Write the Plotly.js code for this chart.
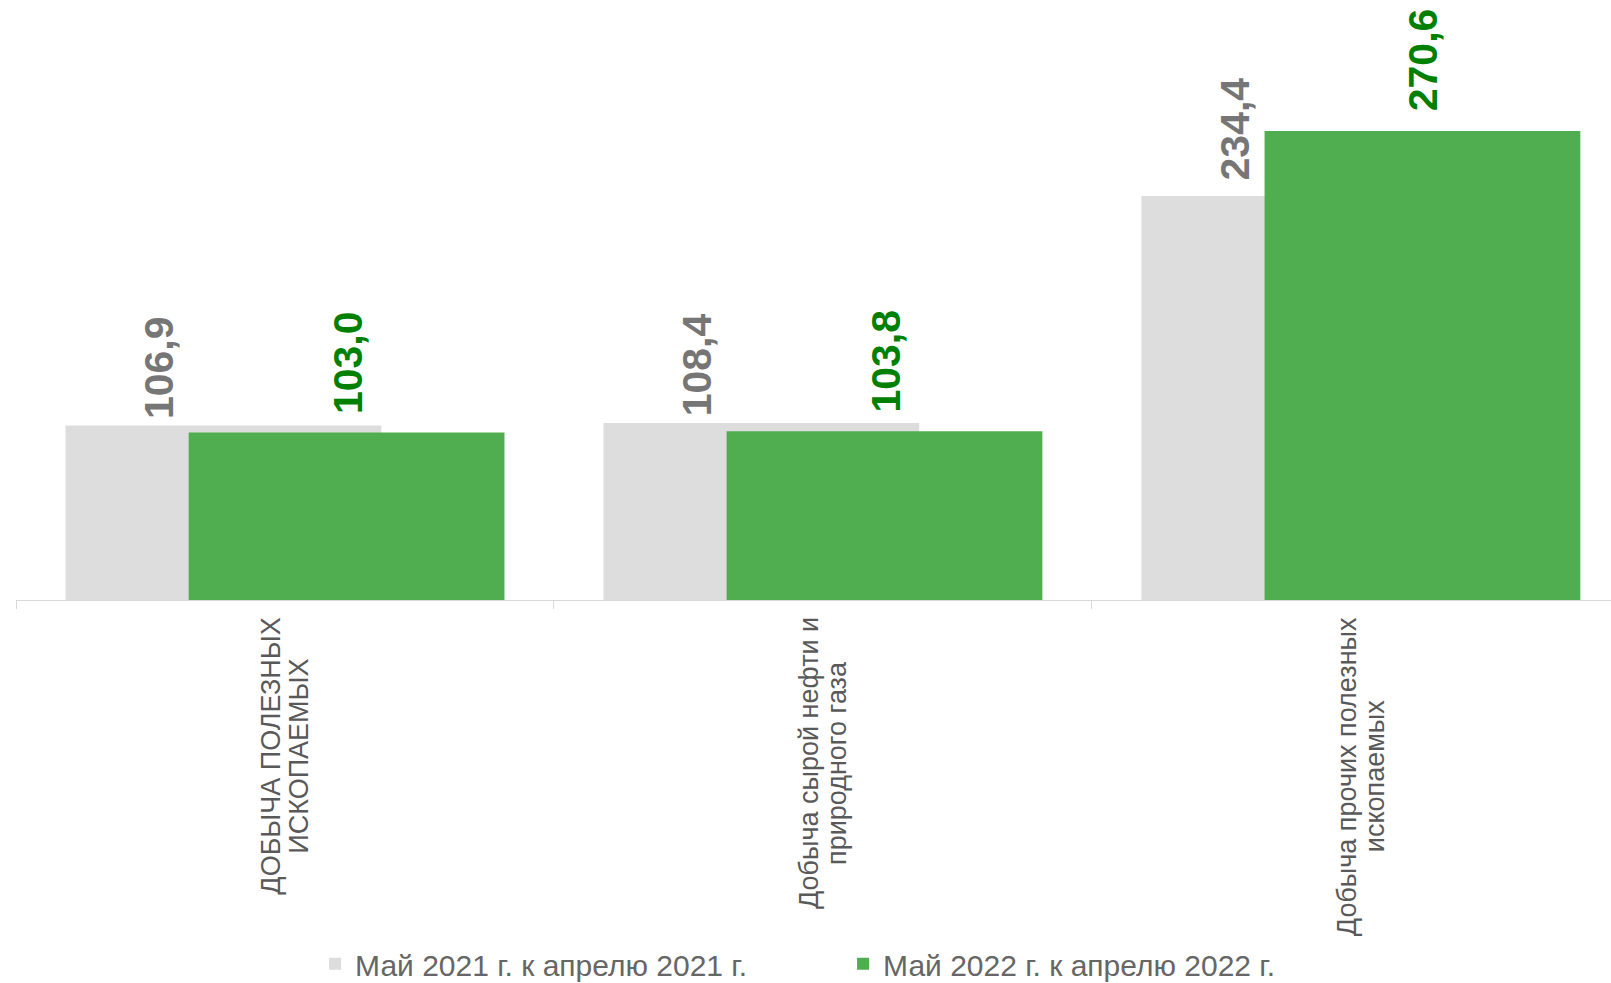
<!DOCTYPE html>
<html>
<head>
<meta charset="utf-8">
<script src="https://cdn.plot.ly/plotly-3.0.1.min.js"></script>
<style>
  html, body { margin: 0; padding: 0; background: #ffffff; overflow: hidden; }
  #chart { width: 1611px; height: 983px; }
</style>
</head>
<body>
<div id="chart"></div>
<script>
// ---- data ----
const categoryLabels = [
  "ДОБЫЧА ПОЛЕЗНЫХ<br>ИСКОПАЕМЫХ",
  "Добыча сырой нефти и<br>природного газа",
  "Добыча прочих полезных<br>ископаемых"
];
const seriesNames = ["Май 2021 г. к апрелю 2021 г.", "Май 2022 г. к апрелю 2022 г."];
const values2021 = [106.9, 108.4, 234.4];
const values2022 = [103.0, 103.8, 270.6];

// ---- styles ----
const FONT = "'Liberation Sans', Arial, sans-serif";
const GREY_BAR = "#DDDDDD";
const GREEN_BAR = "#51AE50";
const GREY_LABEL = "#767676";
const GREEN_LABEL = "#008000";
const AXIS_TEXT = "#595959";
// per-category vertical nudges (px) of the value labels, as in the original
const greyLabelShift = [5, 5, 14];
const greenLabelShift = [17, 17, 18];

const fmt = v => v.toFixed(1).replace(".", ",");

const traces = [
  {
    type: "bar", name: seriesNames[0], x: categoryLabels, y: values2021,
    width: 0.587, offset: -0.408,
    marker: { color: GREY_BAR, line: { width: 0 } },
    hoverinfo: "skip"
  },
  {
    type: "bar", name: seriesNames[1], x: categoryLabels, y: values2022,
    width: 0.587, offset: -0.179,
    marker: { color: GREEN_BAR, line: { width: 0 } },
    hoverinfo: "skip"
  }
];

// measure text to center multi-line category labels like the original
const canvas = document.createElement("canvas");
const ctx = canvas.getContext("2d");
const CAT_FONT_SIZE = 27;
ctx.font = CAT_FONT_SIZE + "px 'Liberation Sans'";

const annotations = [];
categoryLabels.forEach((cat, ci) => {
  const lines = cat.split("<br>");
  const maxLen = Math.max(...lines.map(l => ctx.measureText(l).width));
  lines.forEach((line, li) => {
    annotations.push({
      xref: "x", yref: "paper", x: cat, y: 0,
      text: line, showarrow: false, textangle: -90,
      xanchor: "center", yanchor: "middle",
      xshift: (li - (lines.length - 1) / 2) * 28,
      yshift: -(17 + maxLen / 2),
      font: { family: FONT, size: CAT_FONT_SIZE, color: AXIS_TEXT }
    });
  });
  annotations.push({
    xref: "x", yref: "y", x: cat, y: values2021[ci],
    text: "<b>" + fmt(values2021[ci]) + "</b>", showarrow: false, textangle: -90,
    xanchor: "center", yanchor: "bottom", xshift: -126, yshift: greyLabelShift[ci],
    font: { family: FONT, size: 41, color: GREY_LABEL }
  });
  annotations.push({
    xref: "x", yref: "y", x: cat, y: values2022[ci],
    text: "<b>" + fmt(values2022[ci]) + "</b>", showarrow: false, textangle: -90,
    xanchor: "center", yanchor: "bottom", xshift: 63, yshift: greenLabelShift[ci],
    font: { family: FONT, size: 41, color: GREEN_LABEL }
  });
});

const layout = {
  width: 1611, height: 983,
  margin: { l: 16, r: 0, t: 0, b: 383, autoexpand: false },
  paper_bgcolor: "#ffffff", plot_bgcolor: "#ffffff",
  barmode: "overlay",
  showlegend: true,
  legend: {
    orientation: "h", x: 0.1875, xanchor: "left", y: -0.563, yanchor: "top",
    font: { family: FONT, size: 30, color: "#666666" },
    entrywidth: 483, entrywidthmode: "pixels",
    itemclick: false, itemdoubleclick: false
  },
  xaxis: {
    type: "category", range: [-0.5, 2.465],
    showline: true, linecolor: "#D9D9D9", linewidth: 1.3,
    ticks: "outside", tickson: "boundaries", ticklen: 8, tickcolor: "#D9D9D9", tickwidth: 1,
    showticklabels: false, showgrid: false, zeroline: false, fixedrange: true
  },
  yaxis: {
    range: [10, 343.33], visible: false, showgrid: false, zeroline: false, fixedrange: true
  },
  annotations: annotations
};

Plotly.newPlot("chart", traces, layout, { displayModeBar: false, staticPlot: true });
</script>
</body>
</html>
